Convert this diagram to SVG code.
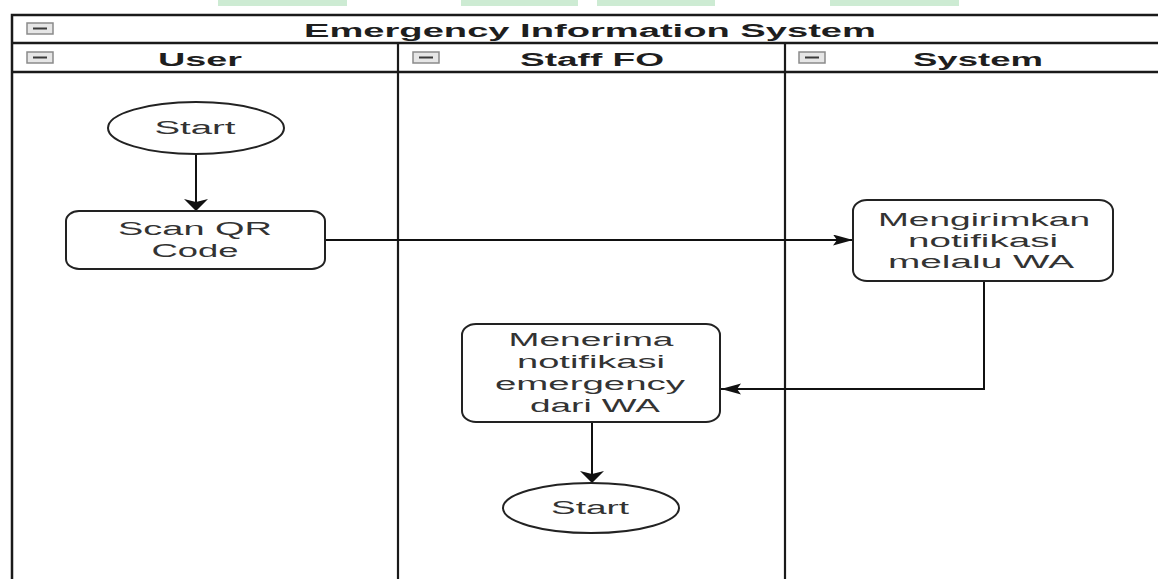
<svg xmlns="http://www.w3.org/2000/svg" width="1158" height="579" viewBox="0 0 1158 579">
<style>
.frame{fill:none;stroke:#1a1a1a;stroke-width:2.5}
.lane{fill:none;stroke:#1a1a1a;stroke-width:2.2}
.node{fill:#ffffff;stroke:#222;stroke-width:2}
.edge{fill:none;stroke:#111;stroke-width:2}
.hdr{font-family:"Liberation Sans",Arial,sans-serif;font-weight:bold;font-size:18px;fill:#1e1e1e;text-anchor:middle}
.lbl{font-family:"Liberation Sans",Arial,sans-serif;font-size:18px;fill:#333;text-anchor:middle}
.bar{fill:#cdebd3}
.ico{fill:#e6e6e6;stroke:#8a8a8a;stroke-width:1.5}
.icoline{stroke:#3a3a3a;stroke-width:2}
</style>
<defs>
<marker id="arrowH" markerUnits="userSpaceOnUse" markerWidth="22" markerHeight="12" refX="20" refY="5.5" orient="auto">
<path d="M0,0 L20,5.5 L0,11 L4,5.5 z" fill="#111"/>
</marker>
<marker id="arrowV" markerUnits="userSpaceOnUse" markerWidth="14" markerHeight="26" refX="12" refY="12" orient="auto">
<path d="M0,0 L12,12 L0,24 L3,12 z" fill="#111"/>
</marker>
<g id="icon">
<rect class="ico" x="0" y="0" width="26" height="11"/>
<line class="icoline" x1="6" y1="5.5" x2="20" y2="5.5"/>
</g>
</defs>
<rect x="0" y="0" width="1158" height="579" fill="#ffffff"/>
<g id="topbars">
<rect class="bar" x="218" y="0" width="129" height="6"/>
<rect class="bar" x="461" y="0" width="117" height="6"/>
<rect class="bar" x="597" y="0" width="118" height="6"/>
<rect class="bar" x="830" y="0" width="129" height="6"/>
</g>
<g id="pool">
<rect class="frame" x="12" y="15" width="1160" height="580"/>
<line class="frame" x1="12" y1="43" x2="1160" y2="43"/>
<line class="frame" x1="12" y1="72" x2="1160" y2="72"/>
<use href="#icon" x="27" y="23"/>
<text class="hdr" x="590" y="37" textLength="572" lengthAdjust="spacingAndGlyphs">Emergency Information System</text>
</g>
<g id="lane-user">
<use href="#icon" x="27" y="52"/>
<text class="hdr" x="200" y="66" textLength="84" lengthAdjust="spacingAndGlyphs">User</text>
</g>
<g id="lane-staff">
<line class="lane" x1="398" y1="43" x2="398" y2="580"/>
<use href="#icon" x="413" y="52"/>
<text class="hdr" x="592" y="66" textLength="144" lengthAdjust="spacingAndGlyphs">Staff FO</text>
</g>
<g id="lane-system">
<line class="lane" x1="785" y1="43" x2="785" y2="580"/>
<use href="#icon" x="799" y="52"/>
<text class="hdr" x="978" y="66" textLength="130" lengthAdjust="spacingAndGlyphs">System</text>
</g>
<g id="connectors">
<path class="edge" d="M196,154 V211" marker-end="url(#arrowV)"/>
<path class="edge" d="M325,240 H853" marker-end="url(#arrowH)"/>
<path class="edge" d="M984,281 V389 H721" marker-end="url(#arrowH)"/>
<path class="edge" d="M592,422 V483" marker-end="url(#arrowV)"/>
</g>
<g id="start1">
<ellipse class="node" cx="196" cy="128" rx="88" ry="26"/>
<text class="lbl" x="195" y="134" textLength="81" lengthAdjust="spacingAndGlyphs">Start</text>
</g>
<g id="scan-qr">
<rect class="node" x="66" y="211" width="259" height="58" rx="13" ry="10"/>
<text class="lbl" x="195" y="235" textLength="154" lengthAdjust="spacingAndGlyphs">Scan QR</text>
<text class="lbl" x="195" y="257" textLength="87" lengthAdjust="spacingAndGlyphs">Code</text>
</g>
<g id="kirim-notif">
<rect class="node" x="853" y="200" width="260" height="81" rx="14" ry="11"/>
<text class="lbl" x="984" y="226" textLength="212" lengthAdjust="spacingAndGlyphs">Mengirimkan</text>
<text class="lbl" x="983" y="247" textLength="150" lengthAdjust="spacingAndGlyphs">notifikasi</text>
<text class="lbl" x="981" y="268" textLength="186" lengthAdjust="spacingAndGlyphs">melalu WA</text>
</g>
<g id="terima-notif">
<rect class="node" x="462" y="324" width="258" height="98" rx="14" ry="11"/>
<text class="lbl" x="591" y="346" textLength="165" lengthAdjust="spacingAndGlyphs">Menerima</text>
<text class="lbl" x="591" y="368" textLength="148" lengthAdjust="spacingAndGlyphs">notifikasi</text>
<text class="lbl" x="590" y="390" textLength="190" lengthAdjust="spacingAndGlyphs">emergency</text>
<text class="lbl" x="595" y="412" textLength="130" lengthAdjust="spacingAndGlyphs">dari WA</text>
</g>
<g id="start2">
<ellipse class="node" cx="591" cy="508" rx="88" ry="25"/>
<text class="lbl" x="590" y="514" textLength="78" lengthAdjust="spacingAndGlyphs">Start</text>
</g>
</svg>
